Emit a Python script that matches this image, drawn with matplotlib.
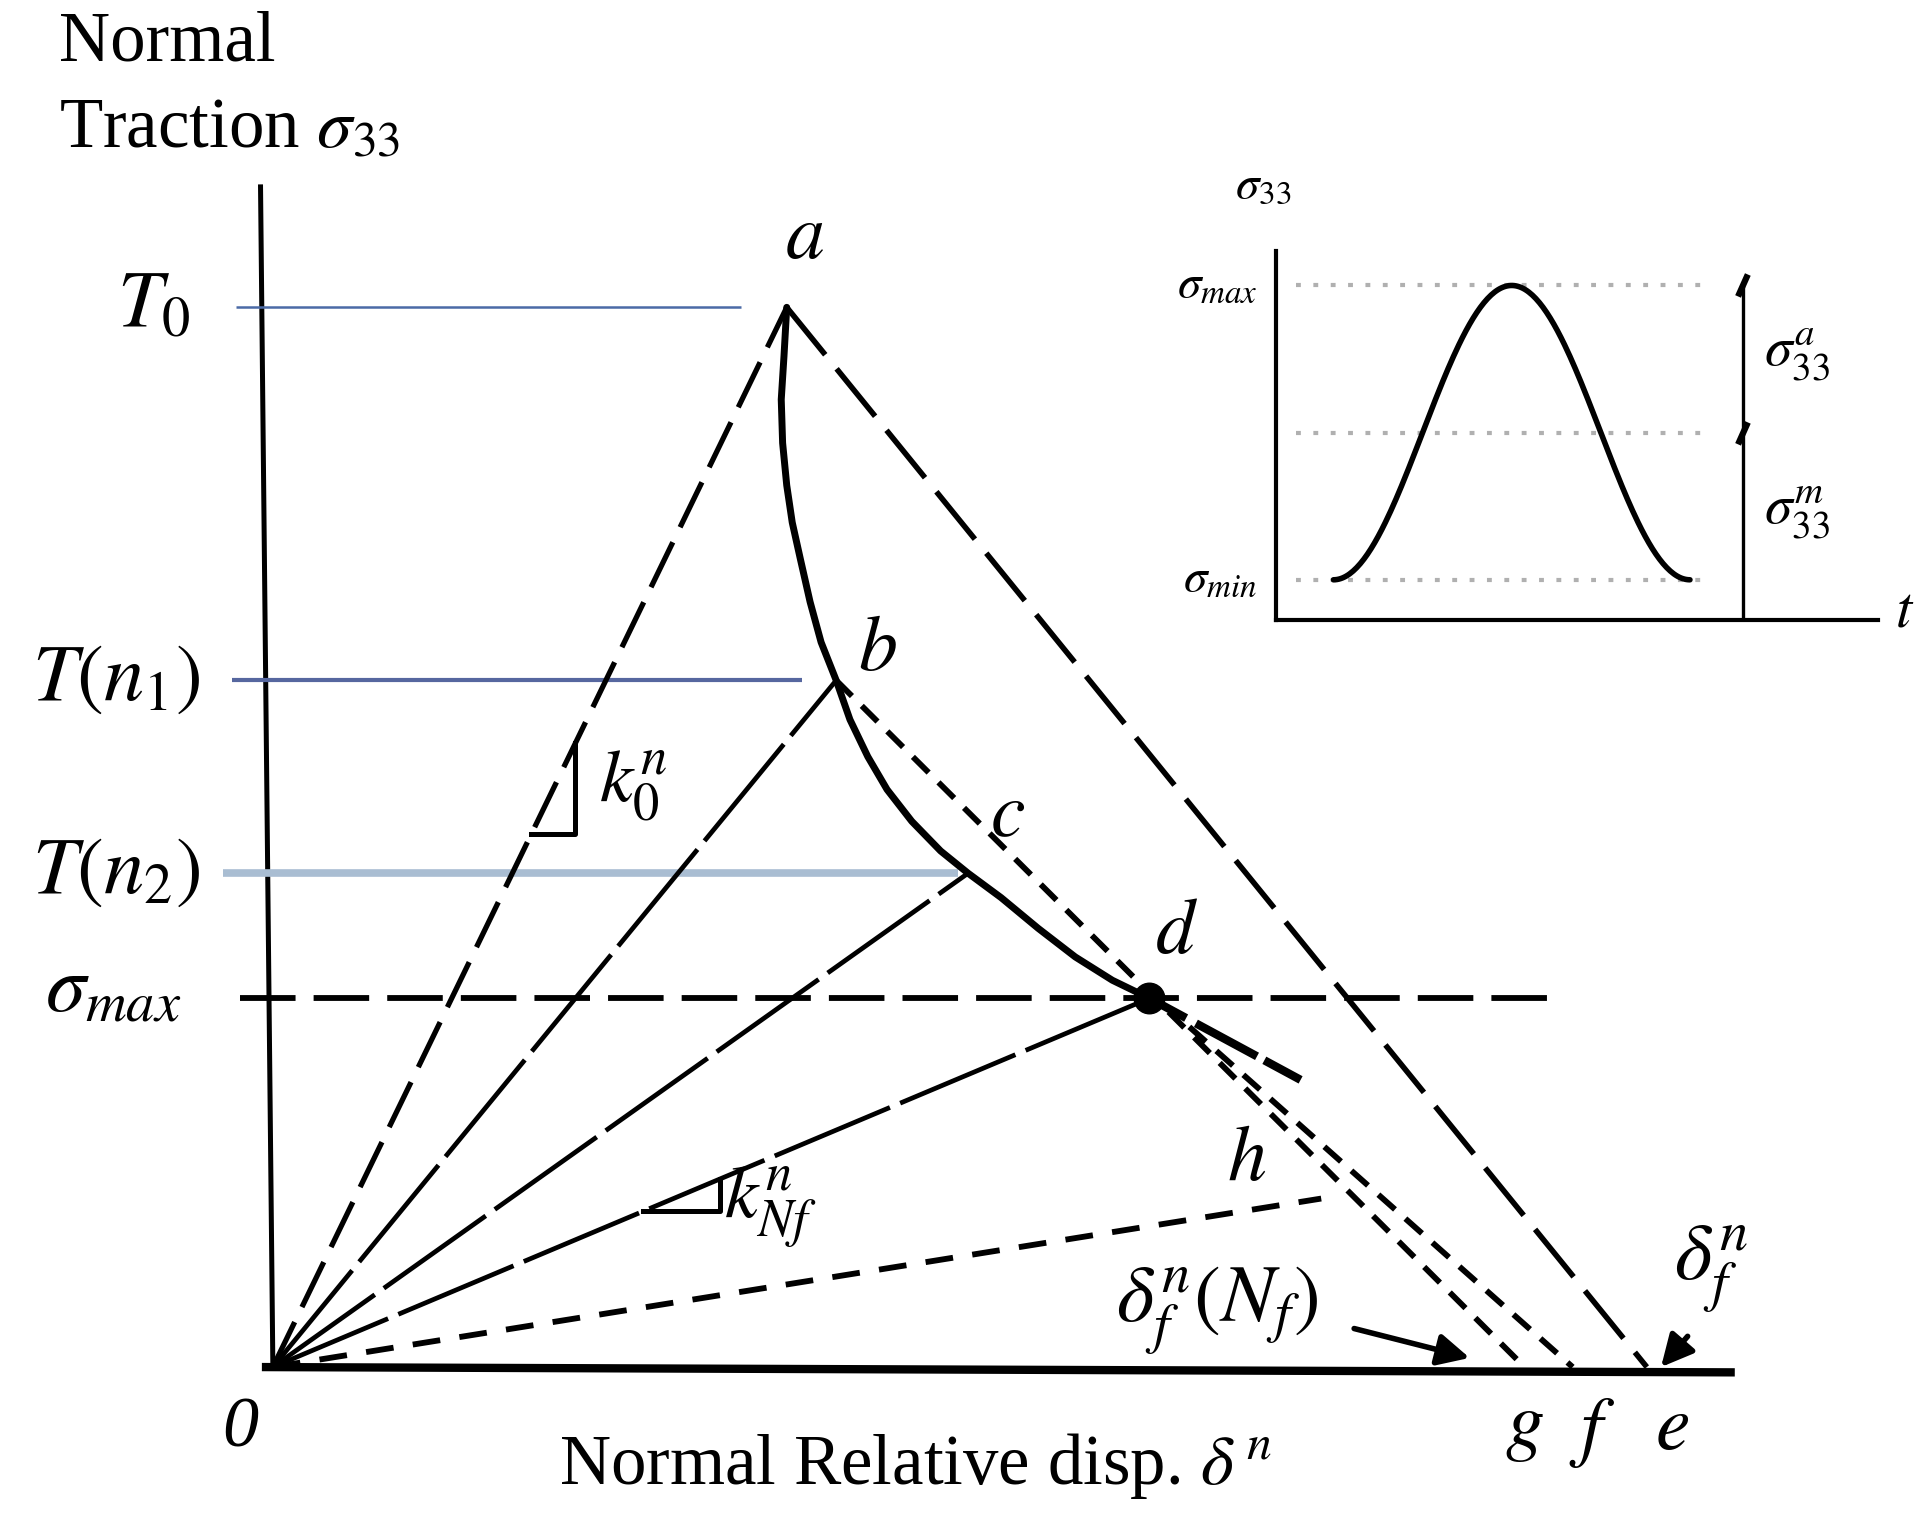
import numpy as np
import matplotlib
matplotlib.use("Agg")
import matplotlib.pyplot as plt

plt.rcParams['font.family'] = ['Liberation Serif', 'DejaVu Serif']
plt.rcParams['mathtext.fontset'] = 'stix'
plt.rcParams['lines.scale_dashes'] = False

# Schematic nodes (delta normalised so e = 1, sigma normalised so T0 = 1)
node_names = ['O', 'a', 'b', 'c', 'd', 'e', 'f', 'g']
node_delta = [0.0, 0.374, 0.410, 0.506, 0.638, 1.0, 0.946, 0.911]
node_sigma = [0.0, 1.0, 0.648, 0.466, 0.348, 0.0, 0.0, 0.0]

# damage curve a -> b -> c -> d
curve_delta = [0.374, 0.372, 0.370, 0.371, 0.374, 0.378, 0.384, 0.391, 0.399, 0.410,
               0.420, 0.433, 0.447, 0.465, 0.486, 0.506, 0.530, 0.557, 0.584, 0.611, 0.638]
curve_sigma = [1.000, 0.954, 0.913, 0.872, 0.832, 0.797, 0.762, 0.722, 0.684, 0.648,
               0.611, 0.576, 0.545, 0.515, 0.487, 0.466, 0.443, 0.414, 0.387, 0.365, 0.348]

# end of the short unloading line O -> h, the stub past d and start of the d -> f line
h_end = (0.763, 0.159)
stub_end = (0.748, 0.271)
f_start = (0.667, 0.321)

# traction levels
level_names = [r'$T_0$', r'$T(n_1)$', r'$T(n_2)$']
level_sigma = [1.0, 0.648, 0.466]
level_start = [-0.027, -0.030, -0.036]
level_end = [0.341, 0.385, 0.499]
level_color = ['#4b6aa6', '#56679f', '#a9bdd2']
level_lw = [1.8, 3.0, 5.5]
sigma_max_end = 0.937

# stiffness markers (sigma of the horizontal leg, horizontal run)
k0_step = (0.503, 0.032)
kNf_step = (0.147, 0.056)

# inset: cyclic loading, sigma normalised to the inset box
inset_levels = [0.906, 0.505, 0.108]       # max, mean, min
inset_t = [0.096, 0.392, 0.688]            # start, peak, end of cycle
inset_dot_span = [0.033, 0.718]
inset_amp_t = 0.776

fig = plt.figure(figsize=(19.27, 15.22), dpi=100)
ax = fig.add_axes([0, 0, 1, 1])
ax.set_xlim(-0.1986, 1.2039)
ax.set_ylim(-0.1462, 1.2900)
ax.axis('off')

nd = dict(zip(node_names, zip(node_delta, node_sigma)))

# axes of the diagram
ax.plot([-0.009, 0.0], [1.116, 0.0], color='black', lw=3.6, solid_capstyle='butt')
ax.plot([-0.008, 1.064], [0.0, -0.005], color='black', lw=6.0, solid_capstyle='butt')

# traction levels
for s, x0, x1, col, lw in zip(level_sigma, level_start, level_end, level_color, level_lw):
    ax.plot([x0, x1], [s, s], color=col, lw=lw, solid_capstyle='butt')

# sigma_max level
smax = nd['d'][1]
ax.plot([-0.024, sigma_max_end], [smax, smax], color='black', lw=4.2,
        linestyle=(0, (40, 13)))

ax.plot([0, nd['a'][0]], [0, nd['a'][1]], color='black', lw=3.8,
        linestyle=(0, (36, 12)))
ax.plot([nd['a'][0], nd['e'][0]], [nd['a'][1], nd['e'][1]], color='black', lw=4.0,
        linestyle=(0, (44, 13)))

# unloading/reloading lines to b, c, d
for k in ['b', 'c', 'd']:
    ax.plot([0, nd[k][0]], [0, nd[k][1]], color='black', lw=3.4,
            linestyle=(0, (90, 8)))

# damage curve
ax.plot(curve_delta, curve_sigma, color='black', lw=5.0, solid_joinstyle='round',
        solid_capstyle='round')

# stub past d
ax.plot([nd['d'][0], stub_end[0]], [nd['d'][1], stub_end[1]], color='black', lw=6.0,
        linestyle=(0, (30, 8, 50, 6)), solid_capstyle='round')

short_dash = (0, (16, 10))
ax.plot([nd['b'][0], nd['g'][0]], [nd['b'][1], nd['g'][1]], color='black', lw=4.2,
        linestyle=short_dash)
ax.plot([f_start[0], nd['f'][0]], [f_start[1], nd['f'][1]], color='black', lw=4.2,
        linestyle=short_dash)
ax.plot([0, h_end[0]], [0, h_end[1]], color='black', lw=4.2, linestyle=(0, (20, 14)))

# point d
ax.plot([nd['d'][0]], [nd['d'][1]], 'o', color='black', ms=22)

# stiffness triangles
for (s0, run), tip in [(k0_step, 'a'), (kNf_step, 'd')]:
    slope = nd[tip][1] / nd[tip][0]
    x0 = s0 / slope
    x1 = x0 + run
    ax.plot([x0, x1, x1], [s0, s0, slope * x1], color='black', lw=3.6)

# labels
lab_fs = 56
label_pos = {'a': (0.387, 1.064), 'b': (0.440, 0.675), 'c': (0.535, 0.519),
             'd': (0.658, 0.408), 'h': (0.709, 0.194), 'g': (0.911, -0.058),
             'f': (0.960, -0.062), 'e': (1.018, -0.060)}
for k, (x, y) in label_pos.items():
    ax.text(x, y, '$' + k + '$', fontsize=lab_fs, ha='center', va='center')
ax.text(-0.024, -0.058, '0', fontsize=lab_fs - 4, style='italic', ha='center', va='center')

level_label_x = [-0.087, -0.114, -0.114]
for name, s, x in zip(level_names, level_sigma, level_label_x):
    ax.text(x, s, name, fontsize=lab_fs + 2, ha='center', va='center')
ax.text(-0.116, smax + 0.006, r'$\sigma_{max}$', fontsize=lab_fs + 2, ha='center',
        va='center')

ax.text(0.262, 0.548, r'$k_0^n$', fontsize=lab_fs - 2, ha='center', va='center')
ax.text(0.362, 0.150, r'$k_{Nf}^n$', fontsize=lab_fs - 2, ha='center', va='center')
ax.text(0.687, 0.053, r'$\delta_f^n(N_f)$', fontsize=lab_fs + 2, ha='center', va='center')
ax.text(1.047, 0.092, r'$\delta_f^n$', fontsize=lab_fs + 2, ha='center', va='center')

ax.text(-0.156, 1.249, 'Normal', fontsize=51, ha='left', va='center')
ax.text(-0.156, 1.168, r'Traction $\sigma_{33}$', fontsize=51, ha='left', va='center')
ax.text(0.468, -0.093, r'Normal Relative disp. $\delta^{\,n}$', fontsize=51,
        ha='center', va='center')

arrow = dict(arrowstyle='-|>', color='black', lw=4.0, mutation_scale=48)
ax.annotate('', xy=(0.873, 0.008), xytext=(0.785, 0.037), arrowprops=arrow)
ax.annotate('', xy=(1.009, -0.002), xytext=(1.031, 0.031), arrowprops=arrow)

# inset: sinusoidal load cycle
ins = fig.add_axes([1038 / 1568, 1 - 504 / 1238, 490 / 1568, 300 / 1238])
ins.set_xlim(0, 1)
ins.set_ylim(0, 1)
for side in ['top', 'right']:
    ins.spines[side].set_visible(False)
for side in ['left', 'bottom']:
    ins.spines[side].set_linewidth(3.0)
ins.set_xticks([])
ins.set_yticks([])
ins.patch.set_alpha(0)

for lv in inset_levels:
    ins.plot(inset_dot_span, [lv, lv], color='#b0b0b0', lw=3.0, linestyle=(0, (3.5, 9)))

t0, tp, t1 = inset_t
lo, hi = inset_levels[2], inset_levels[0]
tt = np.linspace(t0, t1, 200)
ins.plot(tt, lo + (hi - lo) * (1 - np.cos(2 * np.pi * (tt - t0) / (t1 - t0))) / 2,
         color='black', lw=4.0, solid_capstyle='round')

ins.plot([inset_amp_t, inset_amp_t], [0, hi], color='black', lw=2.4)
for lv in inset_levels[:2]:
    ins.plot([inset_amp_t - 0.006, inset_amp_t + 0.006], [lv - 0.022, lv + 0.022],
             color='black', lw=4.5)

ins_fs = 34
ins.text(-0.03, hi, r'$\sigma_{max}$', fontsize=ins_fs, ha='right', va='center')
ins.text(-0.03, lo, r'$\sigma_{min}$', fontsize=ins_fs, ha='right', va='center')
ins.text(-0.02, 1.175, r'$\sigma_{33}$', fontsize=ins_fs, ha='center', va='center')
ins.text(0.865, 0.72, r'$\sigma_{33}^a$', fontsize=ins_fs + 6, ha='center', va='center')
ins.text(0.865, 0.29, r'$\sigma_{33}^m$', fontsize=ins_fs + 6, ha='center', va='center')
ins.text(1.045, 0.02, r'$t$', fontsize=ins_fs + 8, ha='center', va='center')

fig.savefig('out.png', dpi=100)
